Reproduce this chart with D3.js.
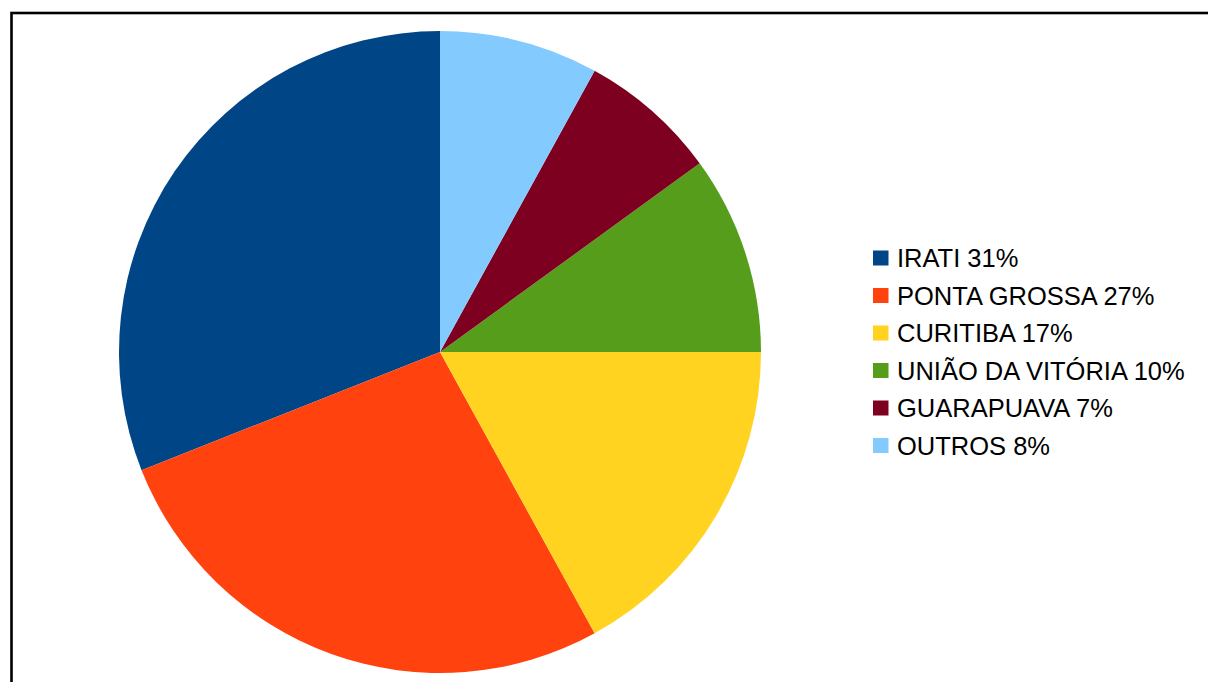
<!DOCTYPE html>
<html>
<head>
<meta charset="utf-8">
<script src="https://cdn.jsdelivr.net/npm/d3@7"></script>
<style>
  html, body { margin: 0; padding: 0; background: #fff; overflow: hidden; }
</style>
</head>
<body>
<script>
// dados do grafico
var categories = ["IRATI", "PONTA GROSSA", "CURITIBA", "UNIÃO DA VITÓRIA", "GUARAPUAVA", "OUTROS"];
var values = [31, 27, 17, 10, 7, 8];
var labels = ["IRATI 31%", "PONTA GROSSA 27%", "CURITIBA 17%", "UNIÃO DA VITÓRIA 10%", "GUARAPUAVA 7%", "OUTROS 8%"];
var colors = ["#004586", "#ff420e", "#ffd320", "#579d1c", "#7e0021", "#83caff"];

var width = 1208;
var height = 682;

var svg = d3.select("body").append("svg")
    .attr("width", width)
    .attr("height", height);

// moldura
svg.append("rect")
    .attr("x", 11.5)
    .attr("y", 13)
    .attr("width", width)
    .attr("height", height)
    .style("fill", "none")
    .style("stroke", "#000")
    .style("stroke-width", 2.6);

var color = d3.scaleOrdinal()
    .domain(categories)
    .range(colors);

// pizza no sentido anti-horario a partir do topo
var pie = d3.pie()
    .sort(null)
    .startAngle(0)
    .endAngle(-2 * Math.PI)
    .value(function(d, i) { return values[i]; });

var arc = d3.arc()
    .innerRadius(0)
    .outerRadius(321);

var g = svg.append("g")
    .attr("transform", "translate(440,352)");

g.selectAll("path")
    .data(pie(categories))
    .enter().append("path")
    .attr("d", arc)
    .style("fill", function(d) { return color(d.data); });

// legenda
var y = d3.scaleLinear()
    .domain([0, categories.length - 1])
    .range([258, 445.5]);

var legend = svg.append("g")
    .selectAll("g")
    .data(categories)
    .enter().append("g")
    .attr("transform", function(d, i) { return "translate(873," + y(i) + ")"; });

legend.append("rect")
    .attr("x", 0)
    .attr("y", -7.5)
    .attr("width", 15.5)
    .attr("height", 15)
    .style("fill", function(d) { return color(d); });

legend.append("text")
    .attr("x", 24)
    .attr("y", 9)
    .style("font-family", "'Liberation Sans', Arial, sans-serif")
    .style("font-size", "25.5px")
    .style("fill", "#000")
    .text(function(d, i) { return labels[i]; });
</script>
</body>
</html>
